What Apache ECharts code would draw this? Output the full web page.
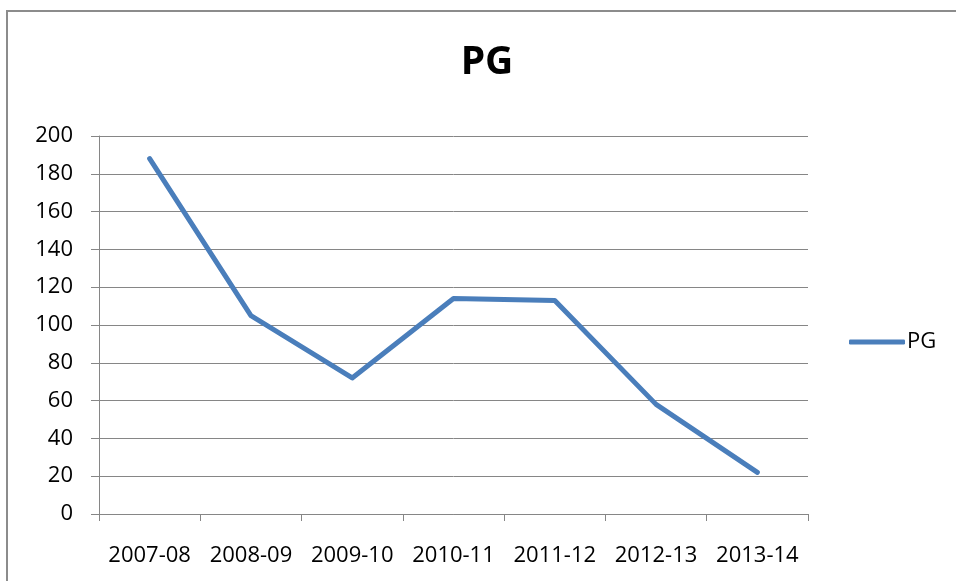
<!DOCTYPE html>
<html>
<head>
<meta charset="utf-8">
<script src="https://cdn.jsdelivr.net/npm/echarts@6/dist/echarts.min.js"></script>
<style>
  html, body { margin: 0; padding: 0; background: #fff; }
  #chart { width: 956px; height: 581px; }
</style>
</head>
<body>
<div id="chart"></div>
<script>
const years = ['2007-08', '2008-09', '2009-10', '2010-11', '2011-12', '2012-13', '2013-14']
const pgValues = [188, 105, 72, 114, 113, 58, 22]

const myChart = echarts.init(document.getElementById('chart'))
const gray = '#868686'
const font = '"Open Sans", "Noto Sans", sans-serif'

const option = {
  animation: false,
  textStyle: { fontFamily: font },
  graphic: [
    {
      type: 'rect',
      shape: { x: 7, y: 11, width: 980, height: 600 },
      style: { fill: 'none', stroke: '#8c8c8c', lineWidth: 2 },
      silent: true
    }
  ],
  title: {
    text: 'PG',
    left: 482,
    top: 38,
    textAlign: 'center',
    textStyle: { fontSize: 39, fontWeight: 'bold', color: '#000', fontFamily: font }
  },
  legend: {
    left: 844,
    top: 326,
    itemWidth: 56,
    itemHeight: 5,
    itemGap: 0,
    icon: 'roundRect',
    textStyle: { fontSize: 22, color: '#000', padding: [0, 0, 0, -3] },
    data: ['PG']
  },
  grid: { left: 99, right: 148, top: 136, bottom: 67 },
  xAxis: {
    type: 'category',
    data: years,
    boundaryGap: true,
    axisLine: { lineStyle: { color: gray, width: 1 } },
    axisTick: { show: true, interval: 0, length: 7, lineStyle: { color: gray } },
    axisLabel: { interval: 0, fontSize: 22, color: '#000', margin: 31 },
    splitLine: { show: false }
  },
  yAxis: {
    type: 'value',
    min: 0,
    max: 200,
    interval: 20,
    axisLine: { show: true, lineStyle: { color: gray, width: 1 } },
    axisTick: { show: true, length: 8, lineStyle: { color: gray } },
    axisLabel: { fontSize: 22, color: '#000', margin: 26 },
    splitLine: { show: true, lineStyle: { color: gray, width: 1 } }
  },
  series: [
    {
      name: 'PG',
      type: 'line',
      data: pgValues,
      showSymbol: false,
      symbol: 'none',
      color: '#4A7EBB',
      lineStyle: { width: 5, color: '#4A7EBB', cap: 'round', join: 'round' }
    }
  ]
}
option && myChart.setOption(option)
</script>
</body>
</html>
